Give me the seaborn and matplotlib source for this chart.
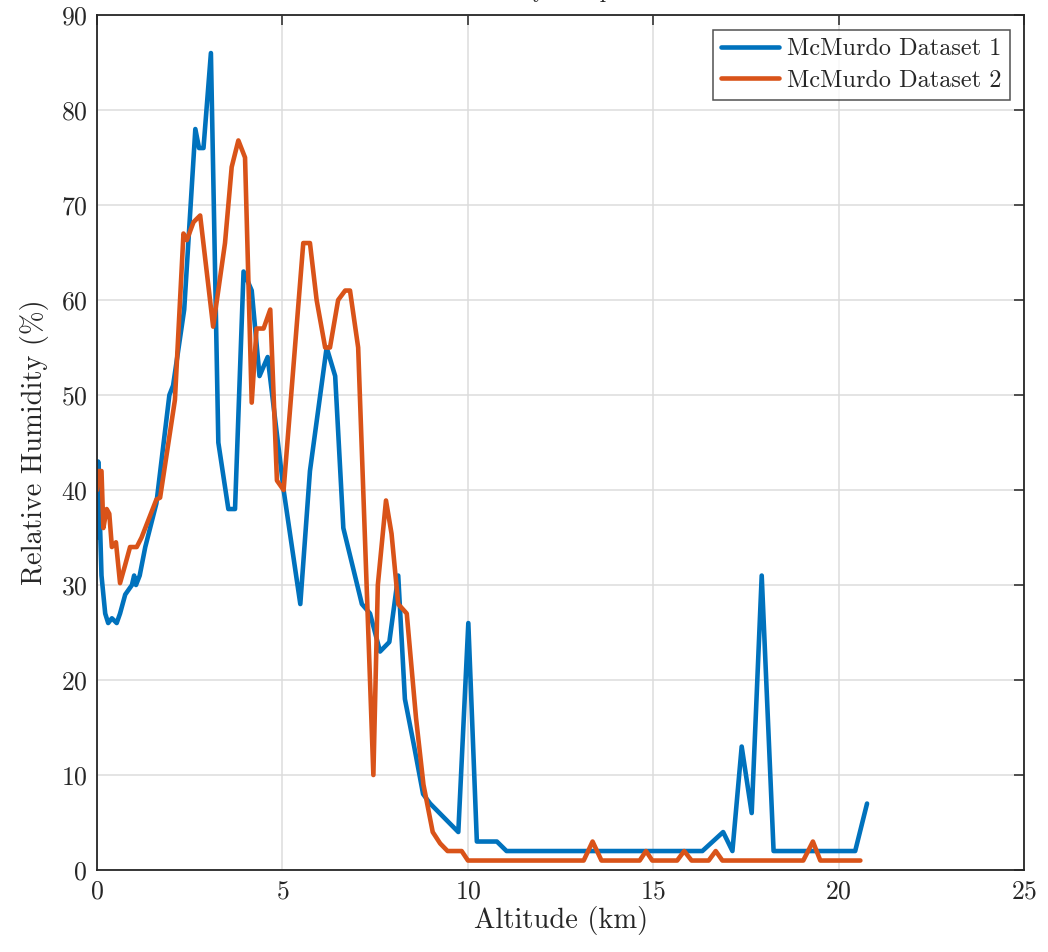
import matplotlib
matplotlib.use("Agg")
import matplotlib.pyplot as plt
import pandas as pd
import seaborn as sns

# McMurdo radiosonde profiles: altitude (km) vs relative humidity (%)
alt_1 = [0.0, 0.03, 0.12, 0.22, 0.30, 0.40, 0.53, 0.62, 0.76, 0.94, 1.00, 1.05,
         1.15, 1.30, 1.60, 1.95, 2.05, 2.35, 2.65, 2.75, 2.87, 3.07, 3.27, 3.54,
         3.72, 3.95, 4.17, 4.38, 4.60, 5.03, 5.48, 5.74, 6.19, 6.42, 6.64, 7.14,
         7.36, 7.63, 7.88, 8.12, 8.30, 8.55, 8.79, 8.98, 9.74, 10.01, 10.24, 10.78,
         11.04, 16.32, 16.88, 17.13, 17.38, 17.65, 17.92, 18.24, 20.44, 20.76]
rh_1 = [35, 43, 31, 27, 26, 26.5, 26, 27, 29, 30, 31, 30,
        31, 34, 38.6, 50, 51, 59, 78, 76, 76, 86, 45, 38,
        38, 63, 61, 52, 54, 40, 28, 42, 55, 52, 36, 28,
        27, 23, 24, 31, 18, 13, 8, 7, 4, 26, 3, 3,
        2, 2, 4, 2, 13, 6, 31, 2, 2, 7]

alt_2 = [0.0, 0.05, 0.12, 0.17, 0.26, 0.33, 0.40, 0.51, 0.62, 0.75, 0.89, 1.07,
         1.20, 1.60, 1.70, 2.10, 2.33, 2.42, 2.60, 2.78, 3.13, 3.45, 3.63, 3.81,
         3.99, 4.17, 4.30, 4.49, 4.67, 4.85, 5.03, 5.56, 5.74, 5.92, 6.15, 6.28,
         6.50, 6.69, 6.82, 7.04, 7.45, 7.57, 7.79, 7.94, 8.12, 8.35, 8.60, 8.80,
         9.05, 9.25, 9.45, 9.83, 10.00, 13.12, 13.36, 13.60, 14.63, 14.80, 14.97,
         15.64, 15.83, 16.03, 16.49, 16.68, 16.86, 19.04, 19.30, 19.50, 20.58]
rh_2 = [40, 42, 42, 36, 38, 37.5, 34, 34.5, 30.2, 32, 34, 34,
        35, 39, 39.2, 49.5, 67, 66.3, 68.2, 68.9, 57.2, 66, 74, 76.8,
        75, 49.2, 57, 57, 59, 41, 40, 66, 66, 60, 55, 55,
        60, 61, 61, 55, 10, 30, 38.9, 35.4, 28, 27, 16, 9,
        4, 2.8, 2, 2, 1, 1, 3, 1, 1, 2, 1,
        1, 2, 1, 1, 2, 1, 1, 3, 1, 1]

series_names = ["McMurdo Dataset 1", "McMurdo Dataset 2"]
series_colors = ["#0072BD", "#D95319"]

frames = [
    pd.DataFrame({"Altitude": alt_1, "RH": rh_1, "Dataset": series_names[0]}),
    pd.DataFrame({"Altitude": alt_2, "RH": rh_2, "Dataset": series_names[1]}),
]
df = pd.concat(frames, ignore_index=True)

sns.set_style("white")
plt.rcParams["font.family"] = ["cmr10", "DejaVu Serif"]
plt.rcParams["mathtext.fontset"] = "cm"
plt.rcParams["axes.formatter.use_mathtext"] = True

fig = plt.figure(figsize=(10.48, 9.52), dpi=100)
ax = fig.add_axes([0.0926, 0.0861, 0.8848, 0.8981])

sns.lineplot(data=df, x="Altitude", y="RH", hue="Dataset",
             palette=dict(zip(series_names, series_colors)),
             sort=False, estimator=None, linewidth=3.3, ax=ax)

ax.set_xlim(0, 25)
ax.set_ylim(0, 90)
ax.set_xticks(range(0, 26, 5))
ax.set_yticks(range(0, 91, 10))
ax.grid(True, color="#dcdcdc", linewidth=1.1)
ax.set_axisbelow(True)
for s in ax.spines.values():
    s.set_color("#262626")
    s.set_linewidth(1.3)
ax.tick_params(direction="in", length=7, width=1.1, color="#262626",
               top=True, right=True, labelsize=18.5, labelcolor="#262626", pad=7)

ax.set_xlabel("Altitude (km)", fontsize=20.5, color="#262626", labelpad=2)
ax.set_ylabel("Relative Humidity (%)", fontsize=20.5, color="#262626", labelpad=8)
ax.set_title("Humidity Comparison", fontsize=16.5, color="#262626", pad=12.5)

leg = ax.legend(loc="upper right", fontsize=17.5, frameon=True, fancybox=False,
                borderaxespad=0.6, handlelength=2.4, handletextpad=0.3,
                labelspacing=0.38, borderpad=0.35)
leg.get_frame().set_edgecolor("#262626")
leg.get_frame().set_linewidth(1.1)
for line in leg.get_lines():
    line.set_linewidth(3.3)

fig.savefig("out.png", dpi=100)
